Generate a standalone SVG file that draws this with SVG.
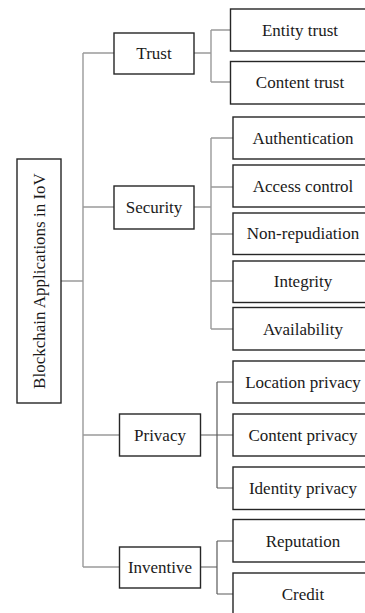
<svg xmlns="http://www.w3.org/2000/svg" width="365" height="613" viewBox="0 0 365 613">
<style>
.box{fill:#fff;stroke:#262626;stroke-width:1.4}
.t{font-family:"Liberation Serif","Times New Roman",serif;font-size:17px;fill:#1a1a1a;text-anchor:middle;dominant-baseline:central}
.c1{fill:none;stroke:#9a9a9a;stroke-width:1.4}
.c2{fill:none;stroke:#5a5a5a;stroke-width:1.2}
</style>
<rect width="365" height="613" fill="#fff"/>
<g id="connectors">
<path class="c1" d="M61 281H83M83 53V567M83 53H114M83 207H114M83 435H119M83 567H119"/>
<path class="c1" d="M194 53H211M211 30V82M211 30H230M211 82H230"/>
<path class="c1" d="M194 207H211M211 138V329M211 138H233M211 187H233M211 234H233M211 281H233M211 329H233"/>
<path class="c2" d="M200 435H217M217 382V488M217 382H233M217 435H233M217 488H233"/>
<path class="c2" d="M200 567H217M217 541V594M217 541H233M217 594H233"/>
</g>
<g id="root"><rect class="box" x="17" y="159" width="44" height="244"/><text class="t" transform="translate(39.5 281) rotate(-90)">Blockchain Applications in IoV</text></g>
<g id="trust"><rect class="box" x="114" y="33" width="80" height="41"/><text class="t" x="154" y="53.5">Trust</text></g>
<g id="security"><rect class="box" x="114" y="186" width="80" height="43"/><text class="t" x="154" y="207.5">Security</text></g>
<g id="privacy"><rect class="box" x="119.5" y="414" width="81" height="42"/><text class="t" x="160" y="435">Privacy</text></g>
<g id="inventive"><rect class="box" x="119.5" y="547" width="81" height="41"/><text class="t" x="160" y="567.5">Inventive</text></g>
<g id="entity-trust"><rect class="box" x="230.5" y="9" width="140" height="42"/><text class="t" x="300" y="30">Entity trust</text></g>
<g id="content-trust"><rect class="box" x="230.5" y="61.5" width="140" height="42.5"/><text class="t" x="300" y="82.5">Content trust</text></g>
<g id="authentication"><rect class="box" x="233" y="117" width="140" height="42"/><text class="t" x="303" y="138">Authentication</text></g>
<g id="access-control"><rect class="box" x="233" y="165" width="140" height="42"/><text class="t" x="303" y="186">Access control</text></g>
<g id="non-repudiation"><rect class="box" x="233" y="213" width="140" height="41.5"/><text class="t" x="303" y="233.5">Non-repudiation</text></g>
<g id="integrity"><rect class="box" x="233" y="261" width="140" height="41.5"/><text class="t" x="303" y="281.5">Integrity</text></g>
<g id="availability"><rect class="box" x="233" y="307.5" width="140" height="42.5"/><text class="t" x="303" y="329">Availability</text></g>
<g id="location-privacy"><rect class="box" x="233" y="361" width="140" height="42"/><text class="t" x="303" y="382">Location privacy</text></g>
<g id="content-privacy"><rect class="box" x="233" y="414" width="140" height="42"/><text class="t" x="303" y="435">Content privacy</text></g>
<g id="identity-privacy"><rect class="box" x="233" y="467" width="140" height="42.5"/><text class="t" x="303" y="488">Identity privacy</text></g>
<g id="reputation"><rect class="box" x="233" y="519.5" width="140" height="42.5"/><text class="t" x="303" y="541">Reputation</text></g>
<g id="credit"><rect class="box" x="233" y="573" width="140" height="45"/><text class="t" x="303" y="594">Credit</text></g>
</svg>
